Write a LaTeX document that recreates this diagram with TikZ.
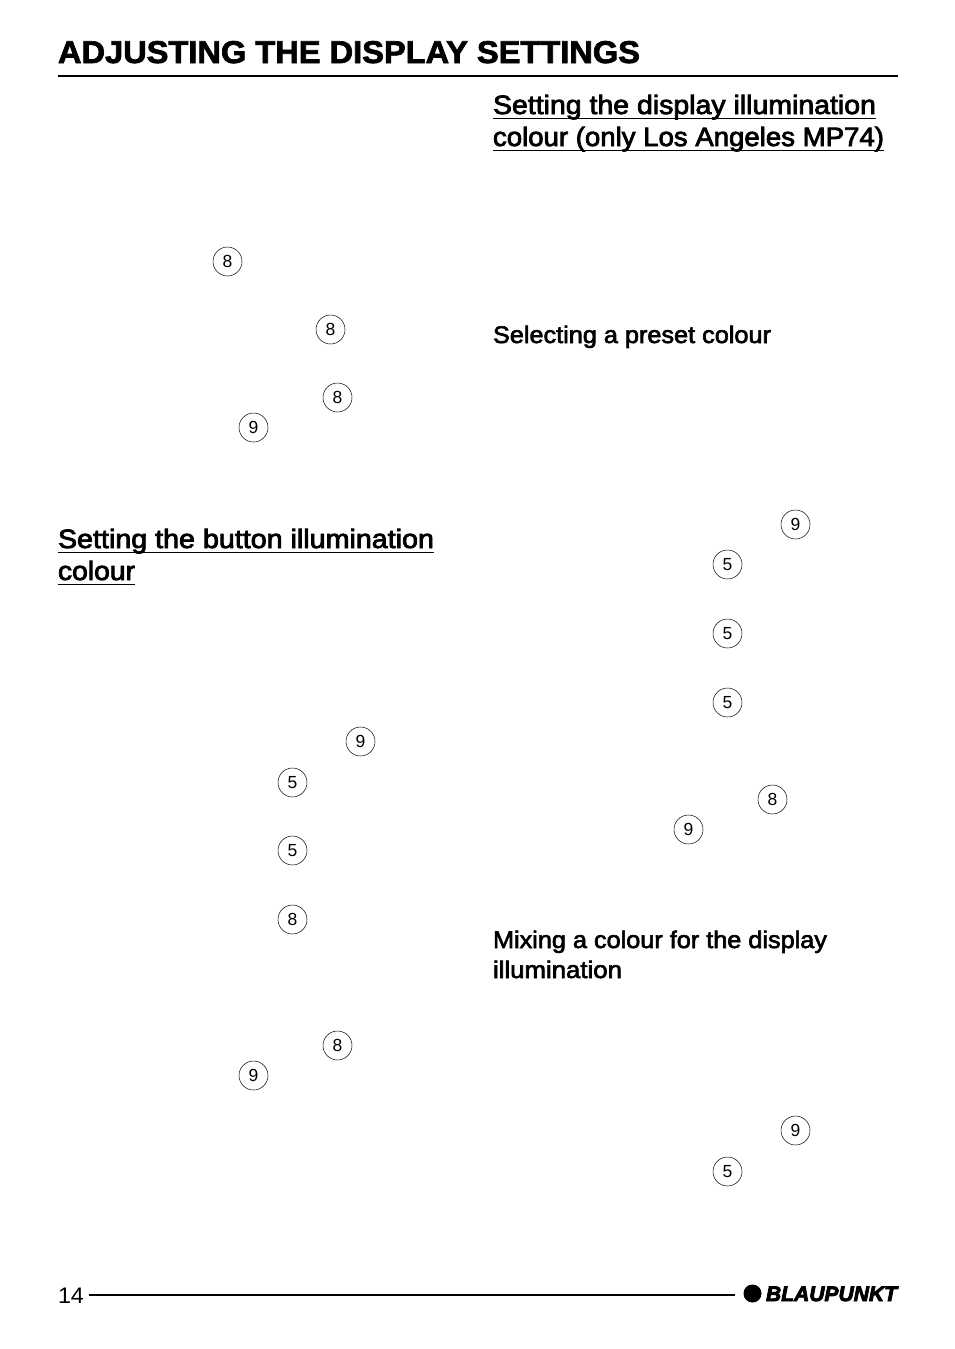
\documentclass[tikz,border=0pt]{standalone}
\usepackage{fontspec}
\setmainfont{Liberation Sans}
\newfontfamily\boldfam{Liberation Sans Bold}
\newfontfamily\logofont{Liberation Sans Bold Italic}
\newlength\fwlen
\newcommand\fitto[2]{\settowidth\fwlen{#2}\pgfmathsetmacro\fwratio{#1/(\fwlen/1pt)}\scalebox{\fwratio}[1]{#2}}
\newcommand\heavy[2]{\special{pdf:code 2 Tr #1 w}#2\special{pdf:code 0 Tr 1 w}}
\tikzset{
  txt/.style={anchor=base west,inner sep=0pt,outer sep=0pt,text=black},
  callout/.style={circle,draw=black,line width=0.5pt,minimum size=29pt,inner sep=0pt,font=\fontsize{17.5}{17.5}\selectfont},
  rulebar/.style={line width=2pt,draw=black},
  ulbar/.style={line width=1.3pt,draw=black}
}
\begin{document}
\begin{tikzpicture}[x=1pt,y=-1pt]
\useasboundingbox[fill=white] (0,0) rectangle (954,1349);
\node[txt,font=\boldfam\fontsize{31.5}{32}\selectfont] (title) at (58,63) {\fitto{582}{\heavy{0.7}{ADJUSTING THE DISPLAY SETTINGS}}};
\coordinate (tl) at (58,76); \coordinate (tr) at (898,76);
\draw[rulebar] (tl) -- (tr);

\node[txt,font=\fontsize{26.5}{27}\selectfont] (h1a) at (493,114) {\fitto{383}{\heavy{0.75}{Setting the display illumination}}};
\node[txt,font=\fontsize{26.5}{27}\selectfont] (h1b) at (493,146) {\fitto{391}{\heavy{0.75}{colour (only Los Angeles MP74)}}};
\node[txt,font=\fontsize{26.5}{27}\selectfont] (h2a) at (58,548) {\fitto{376}{\heavy{0.75}{Setting the button illumination}}};
\node[txt,font=\fontsize{26.5}{27}\selectfont] (h2b) at (58,580) {\fitto{77}{\heavy{0.75}{colour}}};
\draw[ulbar] (493,118.5) -- (876,118.5);
\draw[ulbar] (493,150.5) -- (884,150.5);
\draw[ulbar] (58,552.5) -- (434,552.5);
\draw[ulbar] (58,584.5) -- (135,584.5);

\node[txt,font=\fontsize{24}{24}\selectfont] (s1) at (493,343) {\fitto{278}{\heavy{0.6}{Selecting a preset colour}}};
\node[txt,font=\fontsize{24}{24}\selectfont] (s2a) at (493,948) {\fitto{334}{\heavy{0.6}{Mixing a colour for the display}}};
\node[txt,font=\fontsize{24}{24}\selectfont] (s2b) at (493,978) {\fitto{129}{\heavy{0.6}{illumination}}};

\node[callout] (a1) at (227.5,261.5) {8};
\node[callout] (a2) at (330.5,329.5) {8};
\node[callout] (a3) at (337.5,397.5) {8};
\node[callout] (a4) at (253.5,427.5) {9};
\node[callout] (a5) at (360.5,741.5) {9};
\node[callout] (a6) at (292.5,782.5) {5};
\node[callout] (a7) at (292.5,850.5) {5};
\node[callout] (a8) at (292.5,919.5) {8};
\node[callout] (a9) at (337.5,1045.5) {8};
\node[callout] (a10) at (253.5,1075.5) {9};
\node[callout] (b1) at (795.5,524.5) {9};
\node[callout] (b2) at (727.5,564.5) {5};
\node[callout] (b3) at (727.5,633.5) {5};
\node[callout] (b4) at (727.5,702.5) {5};
\node[callout] (b5) at (772.5,799.5) {8};
\node[callout] (b6) at (688.5,829.5) {9};
\node[callout] (b7) at (795.5,1130.5) {9};
\node[callout] (b8) at (727.5,1171.5) {5};

\node[txt,font=\fontsize{22.5}{23}\selectfont] (pg) at (58,1303) {\fitto{26}{14}};
\coordinate (fl) at (89,1295); \coordinate (fr) at (735,1295);
\draw[rulebar] (fl) -- (fr);
\fill[black] (752.5,1293.5) circle (9);
\node[txt,font=\logofont\fontsize{21}{21}\selectfont] (logo) at (766,1301) {\fitto{131}{\heavy{0.8}{BLAUPUNKT}}};
\end{tikzpicture}
\end{document}
